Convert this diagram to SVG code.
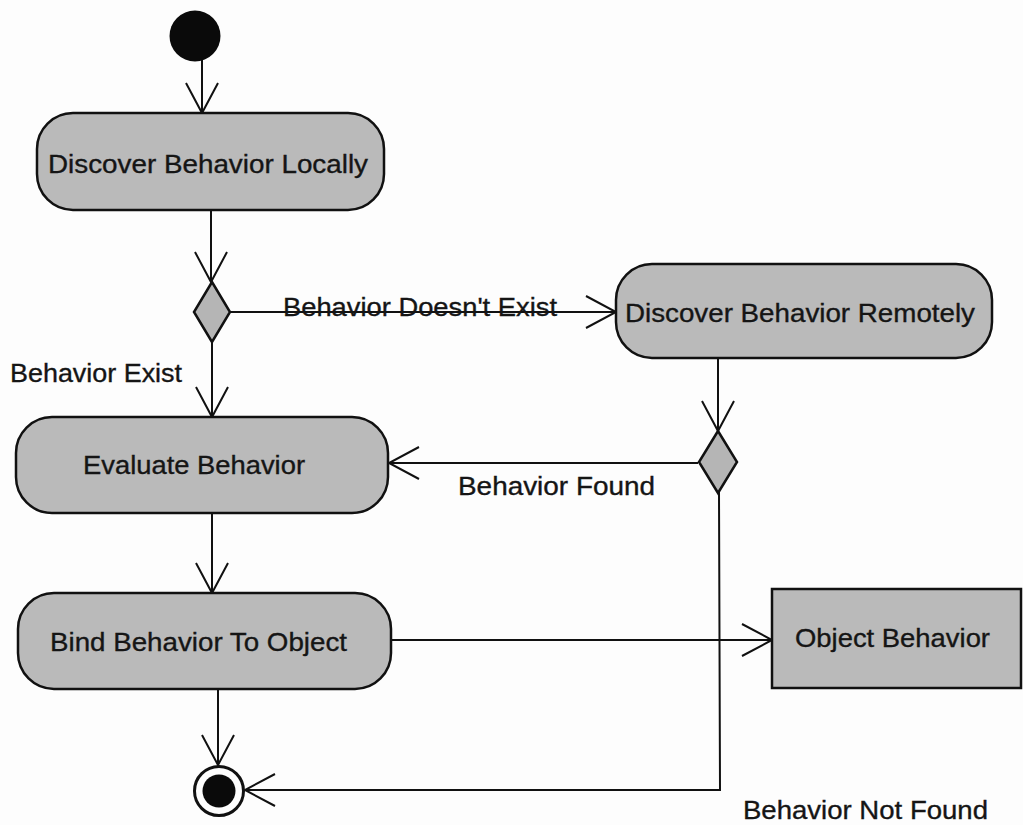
<svg xmlns="http://www.w3.org/2000/svg" width="1023" height="825" viewBox="0 0 1023 825">
  <style>
    .action { fill: #bababa; stroke: #111; stroke-width: 2.5; }
    .decision { fill: #b5b5b5; stroke: #111; stroke-width: 2.5; }
    .flow { fill: none; stroke: #111; stroke-width: 2; }
    .label { font-family: "Liberation Sans", Arial, sans-serif; font-size: 26px; fill: #151515; stroke: #151515; stroke-width: 0.35; }
  </style>
  <defs>
    <marker id="open-arrow" markerUnits="userSpaceOnUse" markerWidth="34" markerHeight="36" refX="31" refY="17" orient="auto" viewBox="0 0 34 36">
      <path d="M1,1 L31,17 L1,33" fill="none" stroke="#111" stroke-width="2"/>
    </marker>
  </defs>

  <rect width="1023" height="825" fill="#fdfdfd"/>

  <!-- control flows -->
  <g id="connectors">
    <path class="flow" d="M202,60 L202,113" marker-end="url(#open-arrow)"/>
    <path class="flow" d="M211,210 L211,282" marker-end="url(#open-arrow)"/>
    <path class="flow" d="M230,312 L616,312" marker-end="url(#open-arrow)"/>
    <path class="flow" d="M212,342 L212,417" marker-end="url(#open-arrow)"/>
    <path class="flow" d="M718,358 L718,431" marker-end="url(#open-arrow)"/>
    <path class="flow" d="M698,463 L389,463" marker-end="url(#open-arrow)"/>
    <path class="flow" d="M719,492 L720,790 L245,790" marker-end="url(#open-arrow)"/>
    <path class="flow" d="M212,513 L212,593" marker-end="url(#open-arrow)"/>
    <path class="flow" d="M391,640 L772,640" marker-end="url(#open-arrow)"/>
    <path class="flow" d="M218,689 L218,765" marker-end="url(#open-arrow)"/>

    <text class="label" x="283" y="316" textLength="274" lengthAdjust="spacingAndGlyphs">Behavior Doesn't Exist</text>
    <text class="label" x="10" y="382" textLength="172" lengthAdjust="spacingAndGlyphs">Behavior Exist</text>
    <text class="label" x="458" y="495" textLength="197" lengthAdjust="spacingAndGlyphs">Behavior Found</text>
    <text class="label" x="743" y="819" textLength="245" lengthAdjust="spacingAndGlyphs">Behavior Not Found</text>
  </g>

  <g id="start">
    <circle cx="195" cy="36" r="25.5" fill="#0a0a0a"/>
  </g>

  <g id="discover-locally">
    <rect class="action" x="37" y="113" width="347" height="97" rx="36" ry="36"/>
    <text class="label" x="48" y="173" textLength="320" lengthAdjust="spacingAndGlyphs">Discover Behavior Locally</text>
  </g>

  <g id="decision-local">
    <path class="decision" d="M212,282 L230,312 L212,342 L194,312 Z"/>
  </g>

  <g id="discover-remotely">
    <rect class="action" x="616" y="264" width="376" height="94" rx="36" ry="36"/>
    <text class="label" x="625" y="322" textLength="350" lengthAdjust="spacingAndGlyphs">Discover Behavior Remotely</text>
  </g>

  <g id="decision-remote">
    <path class="decision" d="M718,431 L737,462 L718,493 L699,462 Z"/>
  </g>

  <g id="evaluate">
    <rect class="action" x="16" y="417" width="372" height="96" rx="36" ry="36"/>
    <text class="label" x="83" y="474" textLength="222" lengthAdjust="spacingAndGlyphs">Evaluate Behavior</text>
  </g>

  <g id="bind">
    <rect class="action" x="18" y="593" width="373" height="96" rx="36" ry="36"/>
    <text class="label" x="50" y="651" textLength="297" lengthAdjust="spacingAndGlyphs">Bind Behavior To Object</text>
  </g>

  <g id="object-behavior">
    <rect class="action" x="772" y="589" width="249" height="99"/>
    <text class="label" x="795" y="647" textLength="195" lengthAdjust="spacingAndGlyphs">Object Behavior</text>
  </g>

  <g id="final">
    <circle cx="219" cy="791" r="24.5" fill="#fdfdfd" stroke="#111" stroke-width="3"/>
    <circle cx="219" cy="791" r="16.5" fill="#0a0a0a"/>
  </g>
</svg>
